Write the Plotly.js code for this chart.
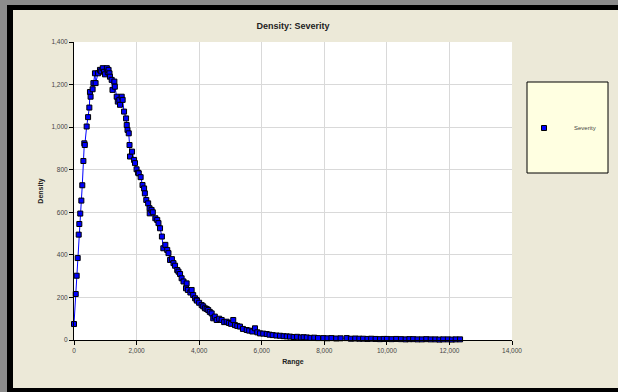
<!DOCTYPE html>
<html>
<head>
<meta charset="utf-8">
<script src="https://cdn.plot.ly/plotly-3.0.1.min.js"></script>
<style>html,body{margin:0;padding:0;background:#ECE9D8;overflow:hidden;}#chart{width:618px;height:392px;}</style>
</head>
<body>
<div id="chart"></div>
<script>
// Data
const rangeX = [0, 55, 85, 118, 150, 170, 200, 235, 265, 300, 330, 345, 405, 450, 490, 510, 530, 595, 620, 670, 690, 770, 830, 870, 920, 960, 990, 1050, 1080, 1105, 1135, 1150, 1205, 1230, 1290, 1305, 1365, 1400, 1450, 1470, 1525, 1555, 1600, 1665, 1685, 1710, 1750, 1775, 1790, 1855, 1920, 1950, 2000, 2050, 2070, 2130, 2190, 2240, 2265, 2310, 2370, 2415, 2420, 2480, 2520, 2600, 2660, 2700, 2750, 2810, 2855, 2920, 2980, 3020, 3070, 3130, 3180, 3230, 3300, 3340, 3390, 3440, 3500, 3580, 3600, 3640, 3720, 3760, 3810, 3870, 3920, 3930, 4000, 4080, 4130, 4185, 4240, 4290, 4340, 4400, 4450, 4500, 4560, 4640, 4720, 4800, 4880, 4950, 5020, 5090, 5145, 5220, 5305, 5400, 5520, 5600, 5700, 5785, 5860, 5945, 6050, 6160, 6250, 6350, 6470, 6585, 6700, 6800, 6905, 7020, 7130, 7250, 7340, 7440, 7560, 7680, 7800, 7970, 8100, 8230, 8380, 8520, 8715, 8850, 8990, 9120, 9240, 9380, 9500, 9640, 9780, 9900, 10000, 10150, 10300, 10450, 10600, 10720, 10840, 10980, 11120, 11260, 11400, 11550, 11680, 11800, 11950, 12080, 12200, 12340];
const severityDensity = [75, 216, 302, 385, 495, 545, 594, 655, 727, 841, 924, 916, 1003, 1047, 1092, 1165, 1143, 1178, 1207, 1253, 1207, 1253, 1269, 1262, 1277, 1260, 1248, 1277, 1258, 1269, 1253, 1237, 1222, 1175, 1214, 1190, 1143, 1120, 1128, 1105, 1143, 1128, 1073, 1041, 1010, 987, 971, 916, 862, 885, 846, 831, 802, 786, 783, 765, 728, 712, 689, 658, 642, 619, 595, 611, 600, 572, 564, 549, 525, 486, 431, 447, 423, 408, 376, 380, 361, 349, 329, 321, 310, 290, 275, 243, 266, 235, 223, 235, 211, 196, 188, 185, 175, 164, 158, 149, 146, 141, 132, 125, 102, 110, 94, 100, 94, 84, 86, 80, 76, 94, 70, 66, 63, 52, 47, 44, 40, 55, 36, 31, 30, 28, 25, 23, 21, 20, 18, 17, 16, 14, 15, 12, 13, 12, 10, 11, 9, 9, 8, 9, 7, 8, 9, 6, 7, 6, 6, 5, 6, 5, 4, 5, 5, 4, 5, 4, 3, 4, 4, 3, 3, 4, 3, 3, 2, 3, 3, 2, 3, 3];
const seriesName = "Severity";
const chartTitle = "Density: Severity";
const xTitle = "Range";
const yTitle = "Density";

// plot area in pixels: left 74, right 512, top 42, bottom 340
const L = 74, R = 512, T = 42, B = 340;
const px = v => (v - L) / (R - L);
const py = v => (B - v) / (B - T);
function rect(x0, y0, x1, y1, fill) {
  return {type: 'rect', xref: 'paper', yref: 'paper', x0: px(x0), x1: px(x1), y0: py(y1), y1: py(y0),
    fillcolor: fill, line: {width: 0}, layer: 'above'};
}

const lineTrace = {
  x: rangeX, y: severityDensity, name: seriesName, type: 'scatter', mode: 'lines',
  line: {color: '#0000FF', width: 1}, showlegend: false, cliponaxis: false
};
const markerTrace = {
  x: rangeX, y: severityDensity, name: seriesName, type: 'scatter', mode: 'markers',
  marker: {symbol: 'square', size: 5, color: '#0000FF', line: {color: '#000000', width: 1}},
  cliponaxis: false
};

const layout = {
  width: 618, height: 392,
  margin: {l: L, r: 618 - R, t: T, b: 392 - B, pad: 0},
  paper_bgcolor: '#ECE9D8', plot_bgcolor: '#FFFFFF',
  font: {family: 'Liberation Sans, Arial, sans-serif', size: 7, color: '#333333'},
  title: {text: '<b>' + chartTitle + '</b>', xref: 'paper', x: 0.5, xanchor: 'center', y: 1 - 26 / 392, yanchor: 'middle', font: {size: 9, color: '#222222'}},
  xaxis: {
    range: [0, 14000], dtick: 2000, tick0: 0, tickformat: ',d',
    showgrid: true, gridcolor: '#D9D9D9', gridwidth: 1, zeroline: false,
    showline: true, linecolor: '#000000', linewidth: 1,
    ticks: 'outside', ticklen: 4, tickcolor: '#000000',
    tickfont: {size: 6.5, color: '#444444'},
    title: {text: '<b>' + xTitle + '</b>', font: {size: 7, color: '#222222'}, standoff: 6},
    fixedrange: true
  },
  yaxis: {
    range: [0, 1400], dtick: 200, tick0: 0, tickformat: ',d',
    showgrid: true, gridcolor: '#D9D9D9', gridwidth: 1, zeroline: false,
    showline: true, linecolor: '#000000', linewidth: 1,
    ticks: 'outside', ticklen: 4, tickcolor: '#000000',
    tickfont: {size: 6.5, color: '#444444'},
    title: {text: '<b>' + yTitle + '</b>', font: {size: 7, color: '#222222'}, standoff: 6},
    fixedrange: true
  },
  showlegend: true,
  legend: {x: px(514), y: py(128), xanchor: 'left', yanchor: 'middle', bgcolor: 'rgba(0,0,0,0)', borderwidth: 0,
    font: {size: 6, color: '#444444'}, itemwidth: 50},
  shapes: [
    {type: 'rect', xref: 'paper', yref: 'paper', x0: px(527), x1: px(608), y0: py(173), y1: py(82),
      fillcolor: '#FFFFE1', line: {color: '#000000', width: 1}, layer: 'below'},
    rect(0, 0, 618, 5, '#8C8C8C'),
    rect(0, 0, 7, 392, '#8C8C8C'),
    rect(7, 5, 618, 10, '#000000'),
    rect(7, 5, 13, 392, '#000000'),
    rect(7, 388, 618, 392, '#000000')
  ]
};

Plotly.newPlot('chart', [lineTrace, markerTrace], layout, {staticPlot: true, displayModeBar: false});
</script>
</body>
</html>
